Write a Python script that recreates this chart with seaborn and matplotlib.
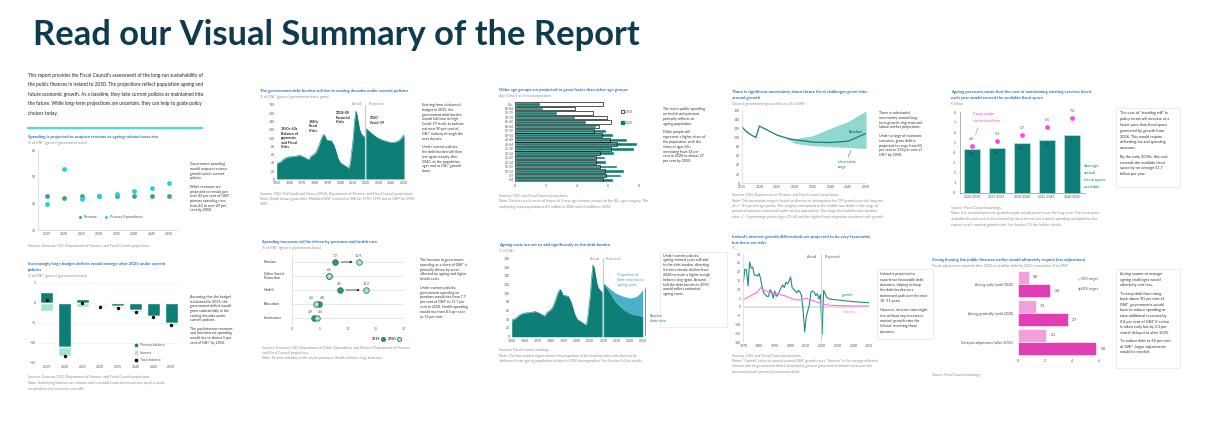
import matplotlib
matplotlib.use("Agg")
import matplotlib.pyplot as plt
from matplotlib.patches import Patch, Rectangle
from matplotlib.lines import Line2D
import numpy as np
import pandas as pd
import seaborn as sns

# ---------------- data ----------------
spend_years = ["2019", "2020", "2025", "2030", "2035", "2040", "2045", "2050"]
revenue = [42.7, 41.9, 42.7, 42.6, 42.6, 42.6, 42.6, 42.6]
primary_exp = [39.8, 52.9, 41.5, 42.7, 43.5, 44.5, 45.9, 47.5]

primary_balance = [2.6, -11.1, 1.0, -0.4, -0.9, -1.9, -3.4, -5.0]
interest_cost = [-2.0, -2.2, -1.2, -0.6, -0.4, -0.4, -0.3, -0.5]
total_balance = [0.6, -13.3, -0.2, -1.0, -1.3, -2.3, -3.7, -5.5]

debt_years = [1950, 1953, 1956, 1959, 1962, 1965, 1968, 1971, 1973, 1975, 1977,
              1979, 1981, 1983, 1985, 1986, 1987, 1988, 1989, 1991, 1993, 1995,
              1997, 1998, 2000, 2002, 2004, 2006, 2007, 2008, 2009, 2010, 2011,
              2012, 2013, 2014, 2015, 2016, 2017, 2018, 2019]
debt = [38, 42, 50, 54, 55, 56, 58, 54, 51, 47, 56,
        60, 66, 80, 98, 105, 109, 104, 96, 94, 93, 82,
        63, 52, 40, 36, 32, 28, 27, 44, 70, 96, 135,
        165, 158, 140, 122, 113, 108, 105, 102]
proj_years = [2020, 2022, 2025, 2028, 2030, 2033, 2036, 2040, 2043, 2046, 2048, 2050]
debt_proj = [123, 118, 110, 103, 99, 95, 92, 89, 90, 94, 100, 108]
debt_no_ageing = [123, 114, 100, 85, 77, 69, 61, 54, 51, 49, 48, 47]

age_groups = ["85+", "80-84", "75-79", "70-74", "65-69", "60-64", "55-59", "50-54",
              "45-49", "40-44", "35-39", "30-34", "25-29", "20-24", "15-19",
              "10-14", "5-9", "0-4"]
share_2020 = [1.6, 1.8, 2.7, 3.85, 4.55, 5.25, 5.9, 6.3, 7.2, 7.9, 7.7, 6.4,
              5.8, 5.9, 6.6, 7.05, 6.85, 6.35]
share_2050 = [5.7, 3.9, 5.0, 5.95, 6.2, 5.4, 5.1, 5.6, 6.15, 6.55, 6.2, 5.5,
              5.25, 5.25, 5.5, 5.8, 5.9, 5.7]

unc_years = [2015, 2016, 2017, 2018, 2019, 2020, 2022, 2025, 2028, 2030, 2035, 2040, 2045, 2050]
unc_baseline = [124, 115, 109, 104, 100, 125, 117, 105, 98, 95, 90, 89, 92, 109]
band_years = [2027, 2030, 2035, 2040, 2045, 2050]
band_low = [100, 87, 82, 80, 78, 76]
band_high = [100, 97, 104, 120, 135, 158]

periods = ["2026-2030", "2031-2035", "2036-2040", "2041-2045", "2046-2050"]
fiscal_space = [4.3, 4.4, 4.9, 5.2, 5.7]
standstill_cost = [4.6, 5.1, 5.7, 6.5, 7.4]

spend_cats = ["Pension", "Other Social\nProtection", "Health", "Education", "Investment"]
spend_2019 = [7.7, 6.6, 8.5, 4.8, 3.9]
spend_2050 = [11.9, 6.6, 13.2, 4.2, 4.5]

growth_years = list(range(1970, 2021)) + [2021, 2022, 2023, 2024, 2025, 2027, 2030, 2035, 2040, 2045, 2050]
growth = [14, 21.5, 21, 12, 25.5, 22, 22.5, 18, 18, 17.5,
          19, 16, 11, 8, 7, 6, 6, 9.8, 8.5, 5,
          9, 6, 7, 9, 11, 12.5, 11, 14, 13, 14.5,
          17, 11, 10, 9, 8, 9.5, 8.5, 6.5, -2.5, -14,
          -5.5, -2, 1.5, 8.5, 9, 8.5, 6.5, 7.5, 4.5, 7,
          -15.5,
          9.5, 7.5, 5.5, 4.8, 4.5, 4.2, 4.0, 3.5, 3.0, 2.7, 2.4]
interest_years = [1970, 1973, 1976, 1979, 1981, 1983, 1986, 1988, 1990, 1993, 1996,
                  2000, 2003, 2006, 2008, 2010, 2013, 2016, 2019, 2022, 2025, 2030,
                  2035, 2040, 2045, 2050]
interest_rate = [4.2, 5.5, 7, 8.5, 11, 9.5, 8.5, 8, 8, 7, 6.5,
                 5, 4.2, 4, 4.5, 4.8, 4, 3, 2, 1.3, 1.0, 0.8,
                 0.7, 0.6, 0.6, 0.6]

scenarios = ["Acting early (until 2030)", "Acting gradually (until 2030)", "Delayed adjustment (after 2035)"]
adjust_90 = [0.8, 1.3, 2.1]
adjust_60 = [2.4, 3.7, 5.8]

# ---------------- style ----------------
W, H = 1221, 423
TEAL = "#0e7f76"
BLUE = "#2770b9"
MAG = "#ff45e5"
GRAY = "#8a8a8a"
TXT = "#333333"

sns.set_theme(style="white")
plt.rcParams["font.family"] = ["Lato", "DejaVu Sans"]

fig = plt.figure(figsize=(W / 100, H / 100), dpi=100)
fig.patch.set_facecolor("white")


def panel(x, y, w, h):
    ax = fig.add_axes([x / W, 1 - (y + h) / H, w / W, h / H])
    ax.set_facecolor("none")
    for s in ax.spines.values():
        s.set_visible(False)
    ax.tick_params(labelsize=2.5, length=0, pad=1.5, colors="#555555")
    return ax


def light_spines(ax, which=("left", "bottom")):
    for s in which:
        ax.spines[s].set_visible(True)
        ax.spines[s].set_color("#d5d5d5")
        ax.spines[s].set_linewidth(0.5)


def line_text(x, y, s, size=2.8, color=TXT, **kw):
    fig.text(x / W, 1 - y / H, s, fontsize=size, color=color, va="center", **kw)


def para(x, y, lines, pitch=4.8, size=2.8, color=TXT, gap=0.8, **kw):
    for line in lines:
        if line == "":
            y += pitch * gap
            continue
        line_text(x, y, line, size, color, **kw)
        y += pitch


def head(x, y, title_lines, sub):
    for t in title_lines:
        line_text(x, y, t, 3.1, BLUE, fontweight="bold")
        y += 6
    line_text(x, y - 0.3, sub, 2.6, GRAY)


def frame(x0, y0, x1, y1):
    fig.add_artist(Rectangle((x0 / W, 1 - y1 / H), (x1 - x0) / W, (y1 - y0) / H,
                             transform=fig.transFigure, fill=False, ec="#e4e4e4", lw=0.5))


# ---------------- page header ----------------
fig.text(33 / W, 1 - 45 / H, "Read our Visual Summary of the Report", fontsize=24.8,
         fontweight="bold", color="#0f3b4f", va="baseline")

para(28, 75, [
    "This report provides the Fiscal Council's assessment of the long-run sustainability of",
    "the public finances in Ireland to 2050. The projections reflect population ageing and",
    "future economic growth. As a baseline, they take current policies as maintained into",
    "the future. While long-term projections are uncertain, they can help to guide policy",
    "choices today.",
], pitch=9.6, size=3.4, color="#222222")
fig.add_artist(Line2D([27.7 / W, 201.7 / W], [1 - 128.3 / H] * 2, color="#4fdcc4", lw=1.6))

# ---------------- A: revenue vs spending ----------------
head(28, 137, ["Spending is projected to outpace revenue as ageing-related costs rise"],
     "% of GNI* (general government basis)")
ax = panel(38, 150, 140, 80)
xs = np.arange(len(spend_years))
sns.scatterplot(x=xs, y=revenue, color="#3ba38b", s=12, linewidth=0, ax=ax, label="Revenue")
sns.scatterplot(x=xs, y=primary_exp, color="#25cfe0", s=12, linewidth=0, ax=ax,
                label="Primary Expenditure")
ax.set_xlim(-0.5, 7.5)
ax.set_ylim(30, 60)
ax.set_yticks([30, 40, 50, 60])
ax.set_xticks(xs, spend_years)
light_spines(ax)
ax.legend(loc="center", bbox_to_anchor=(0.51, 0.16), ncol=2, frameon=False, fontsize=2.6,
          markerscale=0.6, handletextpad=0.1, columnspacing=1.2, labelcolor="#555555")
para(190, 164.3, [
    "Government spending", "would outpace revenue", "growth under current", "policies.", "",
    "While revenues are", "projected to remain just", "over 42 per cent of GNI*,",
    "primary spending rises", "from 40 to over 47 per", "cent by 2050.",
], pitch=4.7, size=2.6)
line_text(28, 245.7, "Sources: Eurostat; CSO; Department of Finance; and Fiscal Council projections.",
          2.5, GRAY)

# ---------------- A2: budget balance ----------------
head(28, 264.3, ["Increasingly large budget deficits would emerge after 2025 under current",
                 "policies"], "% of GNI* (general government basis)")
ax = panel(38, 282.5, 142, 80)
ax.set_axisbelow(True)
for v in [5, 0, -5, -10, -15]:
    ax.axhline(v, color="#eeeeee", lw=0.5, zorder=0)
ax.bar(xs, primary_balance, width=0.72, color=TEAL, zorder=2)
ax.bar(xs, interest_cost, bottom=np.minimum(primary_balance, 0), width=0.72,
       color="#a3e4d3", zorder=2)
sns.scatterplot(x=xs, y=total_balance, color="black", s=6, linewidth=0, ax=ax, zorder=3)
ax.set_xlim(-0.5, 7.5)
ax.set_ylim(-15, 5)
ax.set_yticks([5, 0, -5, -10, -15])
ax.set_xticks(xs, spend_years)
ax.legend([Patch(color=TEAL), Patch(color="#a3e4d3"),
           Line2D([], [], marker="o", ls="", color="black", markersize=1.6)],
          ["Primary balance", "Interest", "Total balance"], loc="upper left",
          bbox_to_anchor=(0.66, 0.28), frameon=False, fontsize=2.5, handlelength=0.7,
          handleheight=0.7, labelspacing=1.0, labelcolor="#555555")
para(190, 296.7, [
    "Assuming that the budget", "is balanced in 2025, the", "government deficit would",
    "grow substantially in the", "coming decades under", "current policies.", "",
    "The gap between revenues", "and non-interest spending", "would rise to almost 5 per",
    "cent of GNI* by 2050.",
], pitch=4.7, size=2.6)
para(28, 377.3, [
    "Sources: Eurostat; CSO; Department of Finance; and Fiscal Council projections.",
    "Note: Underlying balances are shown, which exclude financial transactions (such as bank",
    "recapitalisations) and other one-offs.",
], pitch=5.6, size=2.5, color=GRAY)

# ---------------- B: debt history ----------------
head(260, 91, ["The government debt burden will rise in coming decades under current policies"],
     "% of GNI* (general government basis, gross)")
ax = panel(276.7, 105, 127.3, 74.3)
ax.fill_between(debt_years, debt, color=TEAL, lw=0)
ax.fill_between(proj_years, debt_proj, color=TEAL, lw=0)
sns.lineplot(x=debt_years, y=debt, color=TEAL, lw=0.4, ax=ax)
sns.lineplot(x=proj_years, y=debt_proj, color=TEAL, lw=0.4, ax=ax)
ax.axvline(2019.5, color="#cfcfcf", lw=0.9)
ax.set_xlim(1950, 2050)
ax.set_ylim(0, 180)
ax.set_yticks(range(0, 181, 20))
ax.set_xticks(range(1950, 2051, 10))
light_spines(ax, ("bottom",))
para(281, 129.3, ["1950s-60s", "Balance of", "payments", "and Fiscal", "Crisis"],
     pitch=4.4, size=2.6, color="#222222", fontweight="bold")
para(309, 121.7, ["1980s", "Fiscal", "Crisis"], pitch=4.4, size=2.6, color="#222222",
     fontweight="bold")
para(335.7, 113.3, ["2008-09", "Financial", "Crisis"], pitch=4.4, size=2.6, color="#222222",
     fontweight="bold")
para(370, 118.3, ["2020", "Covid-19"], pitch=4.6, size=2.6, color="#222222", fontweight="bold")
line_text(362, 104, "Actual", 2.6, GRAY, ha="right")
line_text(369, 104, "Projected", 2.6, GRAY)
para(422, 105, [
    "Starting from a balanced", "budget in 2025, the", "government debt burden",
    "would fall from its high", "Covid-19 levels to bottom", "out near 90 per cent of",
    "GNI* midway through the", "next decade.", "",
    "Under current policies,", "the debt burden will then", "rise again steeply after",
    "2040, as the population", "ages and as GNI* growth", "slows.",
], pitch=4.8, size=2.6)
para(260, 194.3, [
    "Sources: CSO; FitzGerald and Kenny (2018); Department of Finance; and Fiscal Council projections.",
    "Note: Graph shows gross debt. Modified GNI* is linked to GNI for 1970–1995 and to GNP for 1950–",
    "1969.",
], pitch=5, size=2.5, color=GRAY)

# ---------------- C: age groups ----------------
head(499, 90, ["Older age groups are projected to grow faster than other age groups"],
     "Age Cohort as % total population")
ax = panel(515, 101.8, 139.5, 80.4)
sns.barplot(x=share_2020, y=age_groups, orient="y", color=TEAL, saturation=1, width=0.82, ax=ax)
sns.barplot(x=share_2050, y=age_groups, orient="y", color="#111111", fill=False, width=0.82,
            linewidth=0.5, ax=ax)
ax.set_xlim(0, 9)
ax.set_xticks([0, 2, 4, 6, 8])
ax.set_xlabel("")
ax.set_ylabel("")
ax.tick_params(axis="y", labelsize=2.3, pad=1)
ax.legend([Patch(fc="white", ec="#111111", lw=0.5), Patch(color=TEAL)], ["2050", "2020"],
          loc="upper left", bbox_to_anchor=(0.74, 0.94), frameon=False, fontsize=2.5,
          handlelength=0.7, handleheight=0.7, labelspacing=2.0, handletextpad=0.3,
          labelcolor="#555555")
para(663, 109.3, [
    "The rise in public spending", "on health and pensions", "primarily reflects an",
    "ageing population.", "",
    "Older people will", "represent a higher share of", "the population, with the",
    "share of ages 65+", "increasing from 14 per", "cent in 2020 to almost 27",
    "per cent by 2050.",
], pitch=4.8, size=2.6)
para(499, 196, [
    "Sources: CSO; and Fiscal Council projections.",
    "Note: The bars are in terms of shares of 5-year age cohorts, except for the 85+ age category. The",
    "underlying total population is 4.9 million in 2020 and 6.0 million in 2050.",
], pitch=5.3, size=2.5, color=GRAY)

# ---------------- D: uncertainty ----------------
head(732, 92, ["There is significant uncertainty about future fiscal challenges given risks",
               "around growth"], "General government gross debt as a % of GNI*")
ax = panel(741.7, 110, 124.3, 73.3)
ax.fill_between(band_years, band_low, band_high, color="#8ed8d0", lw=0)
sns.lineplot(x=unc_years, y=unc_baseline, color="#1d7d72", lw=0.9, ax=ax)
ax.set_xlim(2015, 2050)
ax.set_ylim(0, 160)
ax.set_yticks(range(0, 161, 20))
ax.set_xticks(range(2015, 2051, 5))
light_spines(ax)
line_text(849, 132, "Baseline", 2.7, "#1d6d64", fontweight="bold")
para(838, 161.7, ["Uncertainty", "range"], pitch=5.2, size=2.6, color="#1d7d72")
fig.add_artist(Line2D([848 / W, 851 / W], [1 - 157 / H, 1 - 150.5 / H], color="#1d7d72", lw=0.4))
para(879, 113, [
    "There is substantial", "uncertainty around long-", "term growth, migration and",
    "labour market projections.", "",
    "Under a range of economic", "scenarios, gross debt is", "projected to range from 80",
    "per cent to 158 per cent of", "GNI* by 2050.",
], pitch=4.8, size=2.6)
para(732, 195.3, [
    "Sources: CSO; Department of Finance; and Fiscal Council projections.",
    "Note: The uncertainty range is based on alternative assumptions for TFP growth over the long run",
    "of +/- 0.6 percentage points. This roughly corresponds to the middle two-thirds of the range of",
    "potential outcomes estimated under various approaches. The range also includes participation",
    "rates +/- 5 percentage points (ages 20–64) and the higher/lower migration consistent with growth.",
], pitch=5.3, size=2.5, color=GRAY)

# ---------------- E: standing still ----------------
head(951, 92, ["Ageing pressures mean that the cost of maintaining existing services levels",
               "each year would exceed the available fiscal space"], "€ billion")
ax = panel(959.5, 112, 125, 80.7)
pos = np.arange(len(periods))
sns.barplot(x=pos, y=fiscal_space, native_scale=True, color=TEAL, saturation=1, width=0.64,
            edgecolor="#b9e3dd", linewidth=0.5, ax=ax)
sns.scatterplot(x=pos, y=standstill_cost, color=MAG, s=12, linewidth=0, ax=ax, zorder=3)
for i in pos:
    ax.text(i, standstill_cost[i] + 0.5, f"{standstill_cost[i]}", ha="center", va="bottom",
            fontsize=2.6, color="#555555")
    ax.text(i, fiscal_space[i] - 0.3, f"{fiscal_space[i]}", ha="center", va="top",
            fontsize=2.6, color="#0b4a45")
ax.set_xlim(-0.5, 4.5)
ax.set_ylim(0, 8)
ax.set_yticks(range(0, 9))
ax.set_xticks(pos, periods)
ax.spines["left"].set_visible(True)
ax.spines["left"].set_color("#777777")
ax.spines["left"].set_linewidth(0.4)
ax.spines["bottom"].set_visible(True)
ax.spines["bottom"].set_color("#777777")
ax.spines["bottom"].set_linewidth(0.4)
ax.tick_params(axis="y", length=1.5, width=0.4, color="#777777")
para(973.3, 114, ["Costs under", "current policies"], pitch=6.7, size=3.0, color=MAG)
fig.add_artist(Line2D([978 / W, 975.5 / W], [1 - 128 / H, 1 - 135 / H], color=MAG, lw=0.4))
para(1084, 166, ["Average", "annual", "fiscal space", "available"], pitch=6.9, size=3.1,
     color=TEAL)
frame(1115.7, 108.3, 1180, 187.3)
para(1120, 113.3, [
    "The cost of “standing still” in", "policy terms will increase at a",
    "faster pace than fiscal space", "generated by growth from", "2026. This would require",
    "offsetting tax and spending", "measures.", "",
    "By the early 2030s, this cost", "exceeds the available fiscal",
    "space by on average €1.7", "billion per year.",
], pitch=5.8, size=2.8, gap=0.5)
para(951, 207.7, [
    "Source: Fiscal Council workings.",
    "Note: It is assumed potential growth equals actual growth over the long term. The fiscal space",
    "available for each year is determined by the previous year's policy spending multiplied by the",
    "current year's nominal growth rate. See Section 3.5 for further details.",
], pitch=5.7, size=2.6, color=GRAY)

# ---------------- F: spending by area ----------------
head(262, 242, ["Spending increases will be driven by pensions and health care"],
     "% of GNI* (general government basis)")
ax = panel(292, 255, 112, 70)
ypos = np.arange(len(spend_cats))
for i in ypos:
    ax.axhline(i, color="#dddddd", lw=0.5, zorder=0)
    a, b = spend_2019[i], spend_2050[i]
    if b - a > 2:
        ax.annotate("", xy=(b - 0.6, i), xytext=(a + 0.6, i),
                    arrowprops=dict(arrowstyle="-|>", lw=0.5, color="#222222",
                                    mutation_scale=3))
    if a == b:
        ax.text(a, i - 0.3, f"{a}", ha="center", va="bottom", fontsize=2.5, color="#555555")
    elif abs(b - a) < 2:
        lo, hi = min(a, b), max(a, b)
        ax.text(lo - 0.7, i - 0.3, f"{lo}", ha="center", va="bottom", fontsize=2.5,
                color="#555555")
        ax.text(hi + 0.6, i - 0.3, f"{hi}", ha="center", va="bottom", fontsize=2.5,
                color="#555555")
    else:
        for v in (a, b):
            ax.text(v, i - 0.3, f"{v}", ha="center", va="bottom", fontsize=2.5,
                    color="#555555")
    ax.text(-0.25, i, spend_cats[i], transform=ax.get_yaxis_transform(), ha="left",
            va="center", fontsize=2.6, color="#333333", linespacing=1.3)
sns.scatterplot(x=spend_2019, y=ypos, color="#2a9c7d", edgecolor="#1b5e50", s=16,
                linewidth=0.5, ax=ax, zorder=3)
sns.scatterplot(x=spend_2050, y=ypos, color="#a8e6cf", edgecolor="#1b5e50", s=16,
                linewidth=0.5, ax=ax, zorder=3)
ax.set_xlim(0, 20)
ax.set_ylim(4.5, -0.5)
ax.set_xticks([0, 5, 10, 15, 20])
ax.set_yticks([])
light_spines(ax, ("left",))
ax.legend([Line2D([], [], marker="o", ls="", mfc="#2a9c7d", mec="#1b5e50", mew=0.5, ms=3),
           Line2D([], [], marker="o", ls="", mfc="#a8e6cf", mec="#1b5e50", mew=0.5, ms=3)],
          ["2019", "2050"], ncol=2, markerfirst=False, loc="upper right",
          bbox_to_anchor=(1.0, -0.13), frameon=False, prop={"size": 2.6, "weight": "bold"},
          handlelength=0.8, handletextpad=0.4, columnspacing=1.0, labelcolor="#333333")
para(420, 260, [
    "The increase in government", "spending as a share of GNI* is", "primarily driven by areas",
    "affected by ageing and higher", "health costs.", "",
    "Under current policies,", "government spending on", "pensions would rise from 7.7",
    "per cent of GNI* to 11.7 per", "cent in 2050. Health spending",
    "would rise from 8.5 per cent", "to 13 per cent.",
], pitch=4.8, size=2.6)
para(262, 347.7, [
    "Sources: Eurostat; CSO; Department of Public Expenditure and Reform; Department of Finance;",
    "and Fiscal Council projections.",
    "Note: Pension includes public sector pensions; Health includes long-term care.",
], pitch=5.3, size=2.5, color=GRAY)

# ---------------- G: ageing costs and debt ----------------
head(499, 245, ["Ageing costs are set to add significantly to the debt burden"], "% of GNI*")
ax = panel(511.7, 258.3, 131, 78.4)
ax.fill_between(debt_years, debt, color=TEAL, lw=0)
ax.fill_between(proj_years, debt_no_ageing, debt_proj, color="#4cb0c9", lw=0)
ax.fill_between(proj_years, debt_no_ageing, color=TEAL, lw=0)
sns.lineplot(x=debt_years, y=debt, color=TEAL, lw=0.4, ax=ax)
ax.axvline(2019.5, color="#cfcfcf", lw=0.9)
ax.set_xlim(1950, 2050)
ax.set_ylim(0, 180)
ax.set_yticks(range(0, 181, 20))
ax.set_xticks(range(1950, 2051, 10))
light_spines(ax, ("bottom",))
line_text(600, 259, "Actual", 2.6, GRAY, ha="right")
line_text(606, 259, "Projected", 2.6, GRAY)
para(617, 275, ["Proportion of", "debt ratio due to", "ageing costs"], pitch=5, size=2.6,
     color="#3aa3c3")
para(650, 315.7, ["Baseline", "debt ratio"], pitch=5.3, size=2.6, color=TEAL)
fig.add_artist(Line2D([645 / W, 645 / W], [1 - 288 / H, 1 - 335 / H], color=TEAL, lw=0.5))
frame(660, 251.7, 727, 326.7)
para(663, 255.7, [
    "Under current policies,", "ageing-related costs will add", "to the debt burden, diverting",
    "it from a steady decline from", "2028 to reach a higher trough", "before rising again. Around",
    "half the debt burden in 2050", "would reflect unfunded", "ageing costs.",
], pitch=4.8, size=2.6)
para(499, 350, [
    "Sources: Fiscal Council workings.",
    "Note: The blue shaded region shows the proportion of the baseline debt ratio that can be",
    "attributed to an ageing population relative to 2020 demographics. See Section 3.6 for details.",
], pitch=5.6, size=2.5, color=GRAY)

# ---------------- H: interest-growth ----------------
head(732, 236.7, ["Ireland's interest-growth differentials are projected to be very favourable,",
                  "but there are risks"], "%")
ax = panel(743.3, 254, 126, 88.3)
ax.axhline(0, color="#dddddd", lw=1.2, zorder=0)
sns.lineplot(x=growth_years, y=growth, color="#218a80", lw=0.8, ax=ax)
sns.lineplot(x=interest_years, y=interest_rate, color="#ff6ef0", lw=0.8, ax=ax)
ax.axvline(2019.5, color="#cccccc", lw=0.6)
ax.set_xlim(1970, 2050)
ax.set_ylim(-20, 30)
ax.set_yticks(range(-20, 31, 5))
ax.set_xticks(range(1970, 2051, 10))
light_spines(ax, ("left",))
line_text(817, 257, "Actual", 2.6, "#555555", ha="right")
line_text(825, 257, "Projected", 2.6, "#555555")
line_text(842, 295, "growth", 2.6, "#218a80")
line_text(843, 312, "interest", 2.6, "#ff6ef0")
frame(876.7, 269.3, 933.3, 339.3)
para(880, 274.3, [
    "Ireland is projected to", "experience favourable debt", "dynamics, helping to keep",
    "the debt burden on a", "downward path over the next", "10–15 years.", "",
    "However, interest rates might", "rise without any increase in", "nominal growth rates for",
    "Ireland, reversing these", "dynamics.",
], pitch=5.3, size=2.6)
para(732, 355.7, [
    "Sources: CSO; and Fiscal Council projections.",
    "Notes: “Growth” refers to annual nominal GNI* growth rates. “Interest” is the average effective",
    "interest rate on government debt (calculated as general government interest costs over the",
    "previous period's general government debt).",
], pitch=5.3, size=2.5, color=GRAY)

# ---------------- I: adjustment ----------------
head(932, 260, ["Strengthening the public finances earlier would ultimately require less adjustment"],
     "Fiscal adjustment required after 2025 to stabilise debt by 2050, cumulative % of GNI*")
adj = pd.DataFrame({
    "scenario": scenarios * 2,
    "target": ["90% target"] * 3 + ["60% target"] * 3,
    "value": adjust_90 + adjust_60,
})
ax = panel(1018, 269.5, 94.5, 87)
sns.barplot(data=adj, x="value", y="scenario", hue="target", orient="y",
            palette=["#f2a0dc", "#e33db6"], saturation=1, width=0.9, edgecolor="white",
            linewidth=0.4, ax=ax)
for i in range(len(scenarios)):
    ax.text(adjust_90[i] + 0.3, i - 0.225, f"{adjust_90[i]}", va="center", fontsize=2.6,
            color="#444444")
    ax.text(adjust_60[i] + 0.3, i + 0.225, f"{adjust_60[i]}", va="center", fontsize=2.6,
            color="#444444")
ax.set_xlim(0, 7)
ax.set_xticks([0, 2, 4, 6])
ax.set_xlabel("")
ax.set_ylabel("")
ax.tick_params(axis="y", labelsize=2.6, pad=3.5, colors="#444444")
ax.legend(loc="upper left", bbox_to_anchor=(0.6, 0.95), frameon=False, fontsize=2.5,
          handlelength=0.7, handleheight=0.7, labelspacing=1.6, handletextpad=0.3,
          labelcolor="#555555")
frame(1116, 269.3, 1180, 368.3)
para(1120, 274, [
    "Acting sooner to manage", "ageing challenges would", "ultimately cost less.", "",
    "To keep debt from rising", "back above 90 per cent of", "GNI*, governments would",
    "have to reduce spending or", "raise additional revenues by",
    "0.8 per cent of GNI* if action", "is taken early but by 2.1 per",
    "cent if delayed to after 2035.", "",
    "To reduce debt to 60 per cent", "of GNI*, larger adjustments", "would be needed.",
], pitch=5.6, size=2.8, gap=0.5)
line_text(932, 375.3, "Source: Fiscal Council workings.", 2.5, GRAY)

fig.savefig("out.png", dpi=100, facecolor="white")
